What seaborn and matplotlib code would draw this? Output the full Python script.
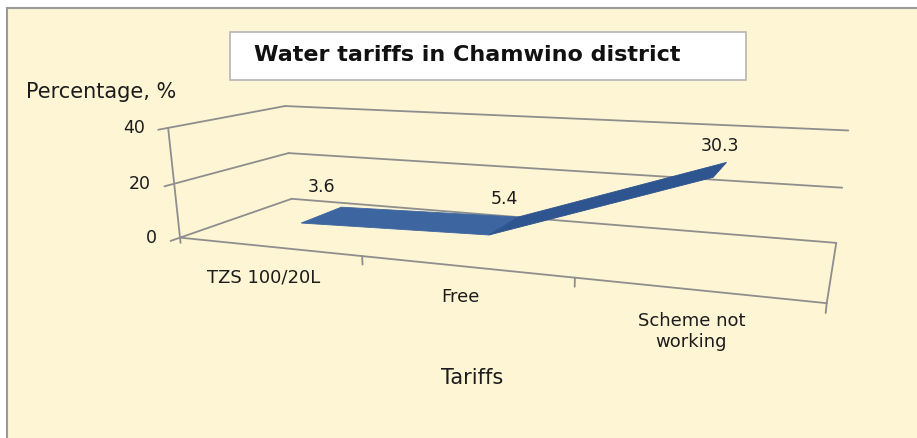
import numpy as np
import matplotlib
matplotlib.use("Agg")
import matplotlib.pyplot as plt
import matplotlib.transforms as mtransforms
from matplotlib.patches import Polygon, Rectangle
import seaborn as sns

# data
tariffs = ["TZS 100/20L", "Free", "Scheme not\nworking"]
percent = [3.6, 5.4, 30.3]
y_ticks = [0, 20, 40]

W, H = 917, 438
CREAM = "#fdf5d3"
GRID = "#8e8e8e"
BLUE_TOP = "#3d66a1"
BLUE_RISE = "#2e5590"
INK = "#1c1c1c"

# reference corners of the excel 3d box (category, value, depth) -> pixel
box_world = np.array([
    (0, 0, 0), (1, 0, 0), (2, 0, 0), (3, 0, 0), (0, 0, 1), (3, 0, 1),
    (0, 20, 0), (0, 40, 0), (0, 20, 1), (0, 40, 1), (3, 20, 1), (3, 40, 1)], float)
box_pix = np.array([
    (180, 237), (362, 260), (574, 280), (827, 300), (292, 198), (836, 242),
    (175, 182), (168, 127), (288, 153), (285, 107), (843, 188), (848, 131)], float)


def solve_camera(world, pix):
    rows = []
    for (x, y, z), (u, v) in zip(world, pix):
        p = np.array([x, y / 20.0, z, 1.0])
        rows.append(np.concatenate([p, np.zeros(4), -u * p]))
        rows.append(np.concatenate([np.zeros(4), p, -v * p]))
    _, _, vt = np.linalg.svd(np.array(rows))
    P = vt[-1].reshape(3, 4)
    return P @ np.diag([1, 1 / 20.0, 1, 1])


class Homography(mtransforms.Transform):
    input_dims = 2
    output_dims = 2
    has_inverse = True

    def __init__(self, M):
        super().__init__()
        self.M = np.asarray(M, float)

    def transform_non_affine(self, values):
        values = np.asarray(values, float)
        v = np.column_stack([values, np.ones(len(values))]) @ self.M.T
        return v[:, :2] / v[:, 2:3]

    def inverted(self):
        return Homography(np.linalg.inv(self.M))


P = solve_camera(box_world, box_pix)


def plane_at_depth(z):
    # (category, value) plane at a fixed depth
    return Homography(np.column_stack([P[:, 0], P[:, 1], P[:, 2] * z + P[:, 3]]))


def plane_at_category(x):
    # (depth, value) plane at a fixed category position
    return Homography(np.column_stack([P[:, 2], P[:, 1], P[:, 0] * x + P[:, 3]]))


sns.set_theme(style="white")
plt.rcParams["font.family"] = ["DejaVu Sans"]

fig = plt.figure(figsize=(W / 100, H / 100), dpi=100, facecolor="white")
ax = fig.add_axes([0, 0, 1, 1])
ax.set_xlim(0, W)
ax.set_ylim(H, 0)
ax.axis("off")

ax.add_patch(Rectangle((7, 8), W, H, facecolor=CREAM, edgecolor="#9a9a9a", lw=1.5, zorder=0))

front = plane_at_depth(0) + ax.transData
back = plane_at_depth(1) + ax.transData
left = plane_at_category(0) + ax.transData

# walls and gridlines
for v in y_ticks:
    ax.plot([-0.07, 1], [v, v], color=GRID, lw=1.3, transform=left, zorder=1)
    ax.plot([0, 3], [v, v], color=GRID, lw=1.3, transform=back, zorder=1)
ax.plot([0, 3], [0, 0], color=GRID, lw=1.3, transform=front, zorder=1)
ax.plot([0, 0], [-2, 40], color=GRID, lw=1.3, transform=front, zorder=1)
ax.plot([0, 1], [0, 0], color=GRID, lw=1.3, transform=plane_at_category(3) + ax.transData, zorder=1)
for k in range(1, 4):
    ax.plot([k, k], [0, -3], color=GRID, lw=1.3, transform=front, zorder=1)

# ribbon
xs = np.arange(len(percent)) + 0.5
pts = np.column_stack([xs, percent])
z0, z1 = 0.3, 0.7
f_pix = plane_at_depth(z0).transform(pts)
b_pix = plane_at_depth(z1).transform(pts)
for i in range(len(pts) - 1):
    quad = [f_pix[i], f_pix[i + 1], b_pix[i + 1], b_pix[i]]
    rising = percent[i + 1] - percent[i] > 5
    ax.add_patch(Polygon(quad, closed=True, facecolor=BLUE_RISE if rising else BLUE_TOP,
                         edgecolor=BLUE_RISE if rising else BLUE_TOP, lw=0.6, zorder=3))

mid = plane_at_depth((z0 + z1) / 2) + ax.transData
for x, v, dy in zip(xs, percent, [28, 27, 24]):
    ax.annotate(f"{v}", (x, v), xycoords=mid, xytext=(0, dy), textcoords="offset pixels",
                ha="center", va="center", fontsize=12.5, color=INK, zorder=4)

# axis labels
for v in y_ticks:
    ax.annotate(f"{v}", (0, v), xycoords=front, xytext=(-23, 0), textcoords="offset pixels",
                ha="right", va="center", fontsize=12.5, color=INK)
for x, lab in zip(xs, tariffs):
    ax.annotate(lab, (x, 0), xycoords=front, xytext=(-4, -22), textcoords="offset pixels",
                ha="center", va="top", fontsize=13, color=INK, linespacing=1.25)

ax.text(26, 92, "Percentage, %", ha="left", va="center", fontsize=15, color=INK)
ax.text(472, 378, "Tariffs", ha="center", va="center", fontsize=15, color=INK)

ax.add_patch(Rectangle((230, 32), 516, 48, facecolor="white", edgecolor="#b5b5b5", lw=1.2, zorder=2))
ax.text(467, 55, "Water tariffs in Chamwino district", ha="center", va="center",
        fontsize=16, fontweight="bold", color="#111111", zorder=3)

fig.savefig("out.png", dpi=100, facecolor=fig.get_facecolor())
